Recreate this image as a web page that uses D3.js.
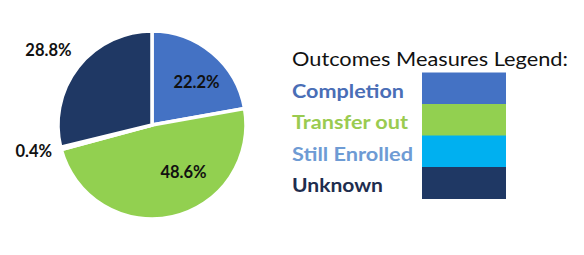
<!DOCTYPE html>
<html>
<head>
<meta charset="utf-8">
<script src="https://cdn.jsdelivr.net/npm/d3@7"></script>
<style>
  html, body { margin: 0; padding: 0; background: #fff; }
  svg { display: block; }
</style>
</head>
<body>
<svg id="chart" width="584" height="255"></svg>
<script>
// ---- data ----
const categories = ["Completion", "Transfer out", "Still Enrolled", "Unknown"];
const values = [22.2, 48.6, 0.4, 28.8];
const valueLabels = ["22.2%", "48.6%", "0.4%", "28.8%"];
const legendTitle = "Outcomes Measures Legend:";

// ---- styles ----
const sliceColors = ["#4472C4", "#92D050", "#00B0F0", "#1F3864"];
const legendTextColors = ["#4A6EB6", "#9ACB50", "#6E9BD4", "#1F2D4E"];
const legendTextWidths = [112, 116, 121, 91];
const font = "Lato, 'Open Sans', sans-serif";

const svg = d3.select("#chart");
const cx = 152, cy = 125, R = 94;

const pie = d3.pie().sort(null).value(d => d).startAngle(0).endAngle(2 * Math.PI);
const arcs = pie(values);
const arc = d3.arc().innerRadius(0).outerRadius(R);

const g = svg.append("g").attr("transform", `translate(${cx},${cy})`);
g.selectAll("path.slice")
  .data(arcs)
  .join("path")
  .attr("class", "slice")
  .attr("d", arc)
  .attr("fill", (d, i) => sliceColors[i])
  .attr("stroke", "#fff")
  .attr("stroke-width", 3.5)
  .attr("stroke-linejoin", "miter");

// label placement (radius and angular shift in degrees per slice)
const labelR = [62, 57, 121, 128];
const labelShift = [6, -21, 2.2, -2.2];
const labelPos = (d, i) => {
  const a = (d.startAngle + d.endAngle) / 2 + labelShift[i] * Math.PI / 180;
  return [Math.sin(a) * labelR[i], -Math.cos(a) * labelR[i]];
};
g.selectAll("text.val")
  .data(arcs)
  .join("text")
  .attr("class", "val")
  .attr("x", (d, i) => labelPos(d, i)[0])
  .attr("y", (d, i) => labelPos(d, i)[1])
  .attr("text-anchor", "middle")
  .attr("dominant-baseline", "central")
  .attr("font-family", font)
  .attr("font-weight", "bold")
  .attr("font-size", 16.5)
  .attr("fill", "#111")
  .text((d, i) => valueLabels[i]);

// ---- legend ----
const lx = 292;
svg.append("text")
  .attr("x", lx).attr("y", 66)
  .attr("font-family", font)
  .attr("font-size", 18.5)
  .attr("fill", "#111")
  .attr("textLength", 276)
  .attr("lengthAdjust", "spacingAndGlyphs")
  .text(legendTitle);

const yBand = d3.scaleBand().domain(categories).range([72.5, 198.5]).paddingInner(0);
const leg = svg.append("g");
leg.selectAll("rect")
  .data(categories)
  .join("rect")
  .attr("x", 422).attr("width", 84)
  .attr("y", d => yBand(d))
  .attr("height", yBand.bandwidth() + 0.5)
  .attr("fill", (d, i) => sliceColors[i]);

leg.selectAll("text")
  .data(categories)
  .join("text")
  .attr("x", lx)
  .attr("y", d => yBand(d) + yBand.bandwidth() / 2 + 9.5)
  .attr("font-family", font)
  .attr("font-weight", "bold")
  .attr("font-size", 19.5)
  .attr("fill", (d, i) => legendTextColors[i])
  .attr("textLength", (d, i) => legendTextWidths[i])
  .attr("lengthAdjust", "spacingAndGlyphs")
  .text(d => d);
</script>
</body>
</html>
